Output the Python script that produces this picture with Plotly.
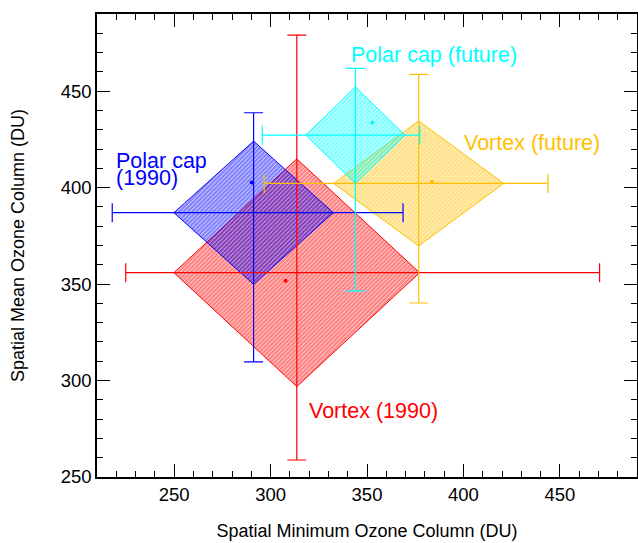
import plotly.graph_objects as go

# ---- data ----
series = ["Vortex (1990)", "Polar cap (1990)", "Vortex (future)", "Polar cap (future)"]
colors = ["#FF0000", "#0000FF", "#FFBF00", "#00FFFF"]
fill_rgba = ["rgba(255,0,0,0.35)", "rgba(0,0,255,0.35)", "rgba(255,191,0,0.35)", "rgba(0,255,255,0.35)"]
x_center = [313.6, 291.2, 376.8, 344.0]
y_center = [355.9, 387.0, 402.2, 427.2]
x_low = [224.9, 217.9, 296.7, 295.7]
x_high = [470.6, 368.7, 443.8, 377.4]
y_low = [258.8, 309.7, 340.2, 346.5]
y_high = [479.0, 438.8, 458.7, 461.8]
half_w = [63.7, 41.3, 44.1, 25.7]
half_h = [59.0, 37.1, 32.4, 25.0]
dot_x = [307.8, 290.2, 383.7, 352.8]
dot_y = [351.7, 402.7, 403.0, 433.6]

label_text = ["Vortex (1990)", "Polar cap", "(1990)", "Vortex (future)", "Polar cap (future)"]
label_color = ["#FF0000", "#0000FF", "#0000FF", "#FFBF00", "#00FFFF"]
label_x = [318.9, 218.7, 218.7, 399.2, 340.5]
label_y = [284.2, 413.8, 404.8, 423.0, 468.7]

FONT = "Arial, Liberation Sans, Helvetica, sans-serif"

fig = go.Figure()

# diamonds
for i in range(len(series)):
    cx, cy, hw, hh = x_center[i], y_center[i], half_w[i], half_h[i]
    fig.add_trace(go.Scatter(
        x=[cx - hw, cx, cx + hw, cx, cx - hw],
        y=[cy, cy + hh, cy, cy - hh, cy],
        mode="lines", fill="toself",
        line=dict(color=colors[i], width=1),
        fillcolor=fill_rgba[i],
        fillpattern=dict(shape="/", fgcolor=colors[i], bgcolor="rgba(255,255,255,0)",
                         size=3, solidity=0.8, fillmode="overlay"),
        hoverinfo="skip", showlegend=False))

# error bars
for i in range(len(series)):
    fig.add_trace(go.Scatter(
        x=[x_center[i]], y=[y_center[i]], mode="markers",
        marker=dict(size=1, color=colors[i]),
        error_x=dict(type="data", symmetric=False,
                     array=[x_high[i] - x_center[i]], arrayminus=[x_center[i] - x_low[i]],
                     color=colors[i], thickness=1.2, width=9.5),
        error_y=dict(type="data", symmetric=False,
                     array=[y_high[i] - y_center[i]], arrayminus=[y_center[i] - y_low[i]],
                     color=colors[i], thickness=1.2, width=9.5),
        name=series[i], showlegend=False))

# small dots
fig.add_trace(go.Scatter(x=dot_x, y=dot_y, mode="markers",
                         marker=dict(size=4, color=colors), showlegend=False))

for t, c, x, y in zip(label_text, label_color, label_x, label_y):
    fig.add_annotation(x=x, y=y, text=t, showarrow=False, xanchor="left", yanchor="middle",
                       font=dict(family=FONT, size=21.5, color=c))

axis_common = dict(
    showgrid=False, zeroline=False, showline=True, linecolor="black", linewidth=1.5,
    mirror="ticks", ticks="inside", ticklen=13, tickwidth=1, tickcolor="black",
    tickfont=dict(family=FONT, size=18.5, color="black"), automargin=False,
    minor=dict(ticks="inside", ticklen=6, dtick=10, tickwidth=1, tickcolor="black"),
)
fig.update_xaxes(range=[210, 490], tick0=250, dtick=50, **axis_common,
                 title=dict(text="Spatial Minimum Ozone Column (DU)",
                            font=dict(family=FONT, size=18, color="black"), standoff=20))
fig.update_yaxes(range=[250, 490], tick0=250, dtick=50, **axis_common,
                 title=dict(text="Spatial Mean Ozone Column (DU)",
                            font=dict(family=FONT, size=18, color="black"), standoff=31))

fig.update_layout(width=638, height=543, margin=dict(l=97, r=1, t=14, b=66),
                  plot_bgcolor="white", paper_bgcolor="white", showlegend=False)

fig.write_html("out.html", config={"displayModeBar": False},
               post_script="document.body.style.margin='0';document.body.style.padding='0';"
                           "document.body.style.overflow='hidden';")
